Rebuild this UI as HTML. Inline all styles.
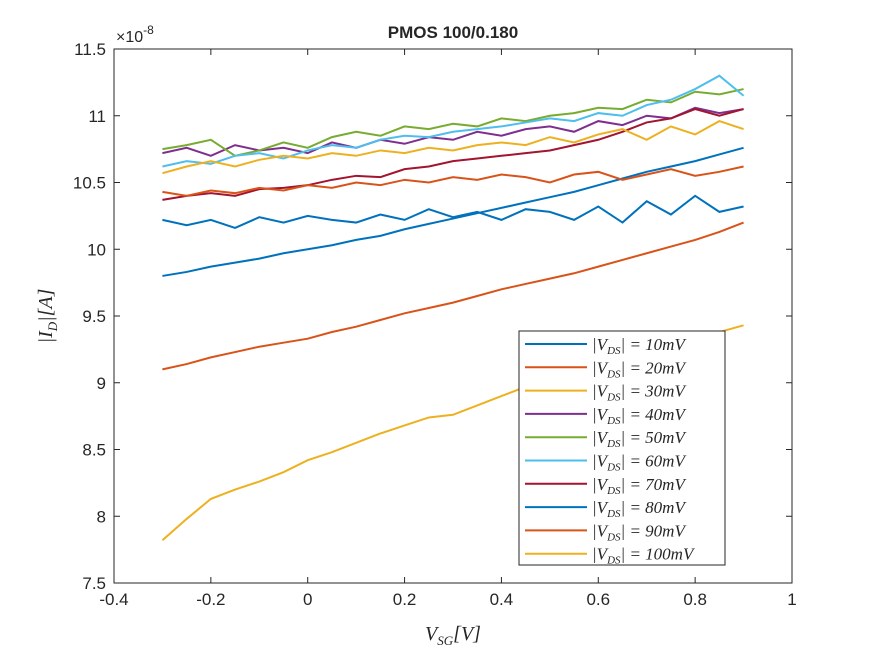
<!DOCTYPE html>
<html><head><meta charset="utf-8"><style>
body{margin:0;background:#fff;width:875px;height:656px;overflow:hidden}
svg text{font-family:"Liberation Sans",sans-serif;fill:#262626}
.m{font-family:"Liberation Serif",serif;font-style:italic}
</style></head><body>
<svg id="c" width="875" height="656"></svg>
<script>
const xs=[-0.3,-0.25,-0.2,-0.15,-0.1,-0.05,0,0.05,0.1,0.15,0.2,0.25,0.3,0.35,0.4,0.45,0.5,0.55,0.6,0.65,0.7,0.75,0.8,0.85,0.9];
const s10=[9.80,9.83,9.87,9.90,9.93,9.97,10.00,10.03,10.07,10.10,10.15,10.19,10.23,10.27,10.31,10.35,10.39,10.43,10.48,10.53,10.58,10.62,10.66,10.71,10.76];
const s20=[9.10,9.14,9.19,9.23,9.27,9.30,9.33,9.38,9.42,9.47,9.52,9.56,9.60,9.65,9.70,9.74,9.78,9.82,9.87,9.92,9.97,10.02,10.07,10.13,10.20];
const s30=[7.82,7.98,8.13,8.20,8.26,8.33,8.42,8.48,8.55,8.62,8.68,8.74,8.76,8.83,8.90,8.97,9.02,9.06,9.10,9.15,9.20,9.26,9.32,9.38,9.43];
const s40=[10.72,10.76,10.70,10.78,10.74,10.76,10.72,10.80,10.76,10.82,10.79,10.84,10.82,10.88,10.85,10.90,10.92,10.88,10.96,10.93,11.00,10.98,11.06,11.02,11.05];
const s50=[10.75,10.78,10.82,10.70,10.74,10.80,10.76,10.84,10.88,10.85,10.92,10.90,10.94,10.92,10.98,10.96,11.00,11.02,11.06,11.05,11.12,11.10,11.18,11.16,11.20];
const s60=[10.62,10.66,10.64,10.70,10.72,10.68,10.74,10.78,10.76,10.82,10.85,10.84,10.88,10.90,10.92,10.95,10.98,10.96,11.02,11.00,11.08,11.12,11.20,11.30,11.15];
const s70=[10.37,10.40,10.42,10.40,10.45,10.46,10.48,10.52,10.55,10.54,10.60,10.62,10.66,10.68,10.70,10.72,10.74,10.78,10.82,10.88,10.95,10.98,11.05,11.00,11.05];
const s80=[10.22,10.18,10.22,10.16,10.24,10.20,10.25,10.22,10.20,10.26,10.22,10.30,10.24,10.28,10.22,10.30,10.28,10.22,10.32,10.20,10.36,10.26,10.40,10.28,10.32];
const s90=[10.43,10.40,10.44,10.42,10.46,10.44,10.48,10.46,10.50,10.48,10.52,10.50,10.54,10.52,10.56,10.54,10.50,10.56,10.58,10.52,10.56,10.60,10.55,10.58,10.62];
const s100=[10.57,10.62,10.66,10.62,10.67,10.70,10.68,10.72,10.70,10.74,10.72,10.76,10.74,10.78,10.80,10.78,10.84,10.80,10.86,10.90,10.82,10.92,10.86,10.96,10.90];
const series=[s10,s20,s30,s40,s50,s60,s70,s80,s90,s100];
const labels=["10","20","30","40","50","60","70","80","90","100"];
const colors=["#0072BD","#D95319","#EDB120","#7E2F8E","#77AC30","#4DBEEE","#A2142F","#0072BD","#D95319","#EDB120"];
const xTicks=[-0.4,-0.2,0,0.2,0.4,0.6,0.8,1];
const xTickLabels=["-0.4","-0.2","0","0.2","0.4","0.6","0.8","1"];
const yTicks=[7.5,8,8.5,9,9.5,10,10.5,11,11.5];
const yTickLabels=["7.5","8","8.5","9","9.5","10","10.5","11","11.5"];
const L=114,R=792,T=49,B=583;
const X=v=>L+(v+0.4)/1.4*(R-L);
const Y=v=>B-(v-7.5)/4*(B-T);
const svg=document.getElementById('c');
const NS='http://www.w3.org/2000/svg';
function mk(t,a,p){const e=document.createElementNS(NS,t);for(const k in a)e.setAttribute(k,a[k]);(p||svg).appendChild(e);return e;}
const bg=mk('rect',{x:L,y:T,width:R-L,height:B-T,fill:'#fff',stroke:'#262626','stroke-width':1});


xTicks.forEach((v,i)=>{const x=X(v);
mk('line',{x1:x,x2:x,y1:B,y2:B-6,stroke:'#262626'});mk('line',{x1:x,x2:x,y1:T,y2:T+6,stroke:'#262626'});
const t=mk('text',{x:x,y:B+22,'text-anchor':'middle','font-size':17});t.textContent=xTickLabels[i];

});
yTicks.forEach((v,i)=>{const y=Y(v);
mk('line',{x1:L,x2:L+6,y1:y,y2:y,stroke:'#262626'});mk('line',{x1:R,x2:R-6,y1:y,y2:y,stroke:'#262626'});
const t=mk('text',{x:L-8,y:y+6,'text-anchor':'end','font-size':17});t.textContent=yTickLabels[i];

});
series.forEach((s,i)=>{const p=mk('polyline',{points:s.map((v,j)=>X(xs[j])+','+Y(v)).join(' '),fill:'none',stroke:colors[i],'stroke-width':2});

});
const lg=mk('g',{});


mk('rect',{x:519,y:331,width:206,height:234,fill:'#fff',stroke:'#262626'},lg);
labels.forEach((l,i)=>{const y=344+i*23.3;
mk('line',{x1:525,x2:587,y1:y,y2:y,stroke:colors[i],'stroke-width':2},lg);
const t=mk('text',{x:592,y:y+6,'font-size':17,'class':'m'},lg);
t.innerHTML='|V<tspan font-size="11" dy="4">DS</tspan><tspan dy="-4">| = '+l+'mV</tspan>';

});
</script>
<svg style="position:absolute;left:0;top:0" width="875" height="656">
<text x="453" y="38" text-anchor="middle" font-size="17" font-weight="bold" fill="#000">PMOS 100/0.180</text>
<text x="116" y="42" font-size="16">×10<tspan font-size="12" dy="-8">-8</tspan></text>
<text x="453" y="640" text-anchor="middle" font-size="20" class="m">V<tspan font-size="13" dy="5">SG</tspan><tspan dy="-5">[V]</tspan></text>
<text transform="translate(52,316) rotate(-90)" text-anchor="middle" font-size="20" class="m">|I<tspan font-size="13" dy="5">D</tspan><tspan dy="-5">|[A]</tspan></text>
</svg>
</body></html>
